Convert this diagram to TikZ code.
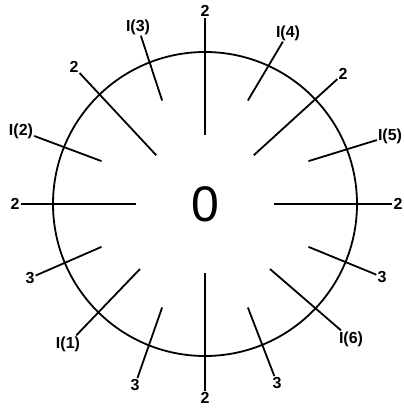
\documentclass[tikz,border=0pt]{standalone}
\usepackage{fontspec}
\setmainfont{Liberation Sans}
\usetikzlibrary{calc}
\begin{document}
\begin{tikzpicture}[x=1pt,y=1pt,
  lab/.style={font=\bfseries\fontsize{16}{16}\selectfont, inner sep=1pt},
  ray/.style={line width=1.8pt, black},
]
\useasboundingbox (0,0) rectangle (404,408);
\coordinate (C) at (205,204);
\draw[line width=1.8pt] (C) circle (152);
\node[font=\fontsize{50}{50}\selectfont, inner sep=0pt] (zero) at (205,204) {0};

% labels
\node[lab] (t2)  at (205,397) {2};
\node[lab] (i3)  at (138,381) {I(3)};
\node[lab] (ul2) at (74,341) {2};
\node[lab] (i2)  at (21,277) {I(2)};
\node[lab] (l2)  at (15,204) {2};
\node[lab] (l3)  at (30,130) {3};
\node[lab] (i1)  at (68,64) {I(1)};
\node[lab] (bl3) at (135,23) {3};
\node[lab] (b2)  at (205,10) {2};
\node[lab] (br3) at (277,25) {3};
\node[lab] (i6)  at (351,69) {I(6)};
\node[lab] (r3)  at (382,131) {3};
\node[lab] (r2)  at (398,204) {2};
\node[lab] (i5)  at (390,272) {I(5)};
\node[lab] (ur2) at (343,334) {2};
\node[lab] (i4)  at (288,375) {I(4)};

% inner ends
\coordinate (et2)  at ($(C)+(90:69)$);
\coordinate (eb2)  at ($(C)+(270:69)$);
\coordinate (el2)  at ($(C)+(180:69)$);
\coordinate (er2)  at ($(C)+(0:69)$);
\coordinate (eul2) at ($(C)+(135:69)$);
\coordinate (eur2) at ($(C)+(45:69)$);
\coordinate (ei1)  at ($(C)+(225:92)$);
\coordinate (ei6)  at ($(C)+(315:92)$);
\coordinate (ei3)  at ($(C)+(112.5:112)$);
\coordinate (ei4)  at ($(C)+(67.5:112)$);
\coordinate (ei5)  at ($(C)+(22.5:112)$);
\coordinate (ei2)  at ($(C)+(157.5:112)$);
\coordinate (el3)  at ($(C)+(202.5:112)$);
\coordinate (ebl3) at ($(C)+(247.5:112)$);
\coordinate (ebr3) at ($(C)+(292.5:112)$);
\coordinate (er3)  at ($(C)+(337.5:112)$);

\draw[ray] (t2) -- (et2);
\draw[ray] (b2) -- (eb2);
\draw[ray] (l2) -- (el2);
\draw[ray] (r2) -- (er2);
\draw[ray] (ul2) -- (eul2);
\draw[ray] (ur2) -- (eur2);
\draw[ray] (i1) -- (ei1);
\draw[ray] (i6) -- (ei6);
\draw[ray] (i3) -- (ei3);
\draw[ray] (i4) -- (ei4);
\draw[ray] (i5) -- (ei5);
\draw[ray] (i2) -- (ei2);
\draw[ray] (l3) -- (el3);
\draw[ray] (bl3) -- (ebl3);
\draw[ray] (br3) -- (ebr3);
\draw[ray] (r3) -- (er3);
\end{tikzpicture}
\end{document}
